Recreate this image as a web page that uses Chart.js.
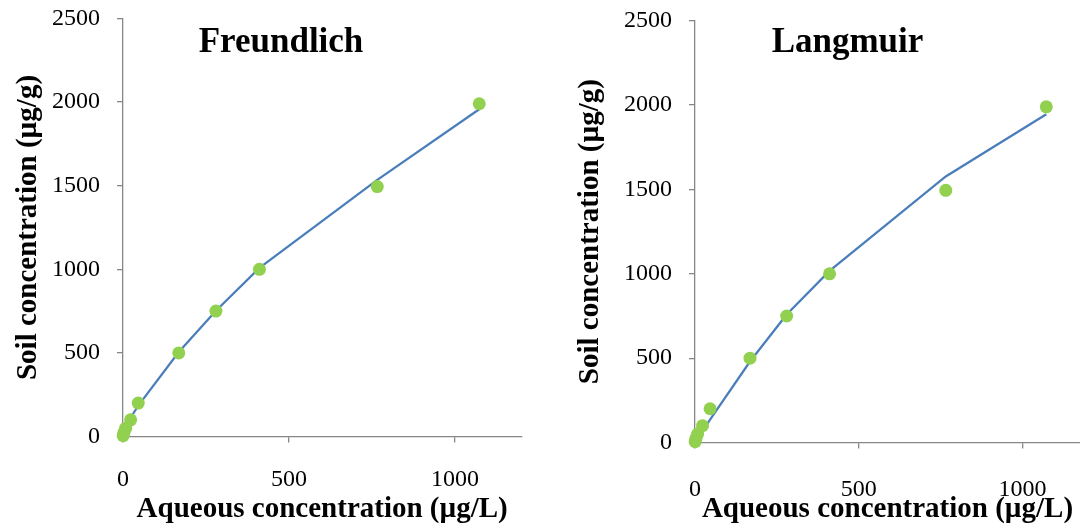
<!DOCTYPE html>
<html lang="en">
<head>
<meta charset="UTF-8">
<title>Freundlich and Langmuir isotherms</title>
<script src="https://cdn.jsdelivr.net/npm/chart.js@4.4.1/dist/chart.umd.min.js"></script>
<style>
  body { margin: 0; background: #fff; }
  #wrap { position: relative; width: 1080px; height: 527px; overflow: hidden; }
  #wrap canvas { position: absolute; top: 0; }
</style>
</head>
<body>
<div id="wrap">
  <canvas id="freundlich" width="540" height="527" style="left:0"></canvas>
  <canvas id="langmuir" width="540" height="527" style="left:540px"></canvas>
</div>
<script>
// measured points: aqueous (µg/L) vs soil (µg/g)
const aqueous = [0.5, 3, 8, 23, 46, 168, 280, 411, 766, 1073];
const soil = [5, 25, 50, 100, 200, 500, 750, 1000, 1495, 1990];

// model lines at the same aqueous values
const freundlichFit = [8, 28, 58, 112, 185, 505, 752, 1008, 1535, 1957];
const langmuirFit = [2, 9, 24, 69, 135, 480, 759, 1017, 1577, 1946];

const xTicks = [0, 500, 1000];
const yTicks = [0, 500, 1000, 1500, 2000, 2500];

const axisGrey = '#868686';
const serif = '"Liberation Serif", "Times New Roman", serif';

// big bold label sitting inside the plot, like the Excel overlay title
const panelTitle = {
    id: 'panelTitle',
    afterDraw(chart, args, o) {
        const ctx = chart.ctx;
        ctx.save();
        ctx.font = 'bold 35px ' + serif;
        ctx.fillStyle = '#000';
        ctx.textAlign = 'center';
        ctx.textBaseline = 'alphabetic';
        ctx.fillText(o.text, o.x, o.y);
        ctx.restore();
    }
};

function toXY(xs, ys) {
    return xs.map((x, i) => ({ x: x, y: ys[i] }));
}

function makeChart(id, title, fit, s) {
    new Chart(document.getElementById(id), {
        type: 'scatter',
        data: {
            datasets: [
                {
                    label: 'Measured',
                    data: toXY(aqueous, soil),
                    backgroundColor: '#92d050',
                    borderWidth: 0,
                    pointRadius: 6.5,
                    clip: false
                },
                {
                    label: title,
                    data: toXY(aqueous, fit),
                    showLine: true,
                    borderColor: '#4a7ebb',
                    borderWidth: 2.25,
                    pointRadius: 0,
                    tension: 0,
                    clip: false
                }
            ]
        },
        options: {
            responsive: false,
            animation: false,
            devicePixelRatio: 1,
            layout: {
                autoPadding: false,
                padding: { left: 0, right: s.padRight, top: s.padTop, bottom: 0 }
            },
            plugins: {
                legend: { display: false },
                tooltip: { enabled: false },
                panelTitle: { text: title, x: s.titleX, y: 52 }
            },
            scales: {
                x: {
                    type: 'linear',
                    min: 0,
                    max: s.xMax,
                    afterBuildTicks: sc => { sc.ticks = xTicks.map(v => ({ value: v })); },
                    afterFit: sc => { sc.height = s.xHeight; },
                    border: { color: axisGrey, width: 1.3 },
                    grid: { drawOnChartArea: false, tickLength: 6, color: axisGrey, lineWidth: 1.3 },
                    ticks: {
                        color: '#000',
                        font: { family: serif, size: 24 },
                        padding: s.xPad,
                        maxRotation: 0,
                        callback: v => String(v)
                    },
                    title: {
                        display: true,
                        text: 'Aqueous concentration (µg/L)',
                        color: '#000',
                        font: { family: serif, size: 29, weight: 'bold' },
                        padding: { top: 0, bottom: 0 }
                    }
                },
                y: {
                    min: 0,
                    max: 2500,
                    afterBuildTicks: sc => { sc.ticks = yTicks.map(v => ({ value: v })); },
                    afterFit: sc => { sc.width = s.yWidth; },
                    border: { color: axisGrey, width: 1.3 },
                    grid: { drawOnChartArea: false, tickLength: 6, color: axisGrey, lineWidth: 1.3 },
                    ticks: {
                        color: '#000',
                        // tiny lineHeight keeps the label box from pushing the plot top down
                        font: { family: serif, size: 24, lineHeight: 0.05 },
                        padding: 17,
                        callback: v => String(v)
                    },
                    title: {
                        display: true,
                        text: 'Soil concentration (µg/g)',
                        color: '#000',
                        font: { family: serif, size: 29, weight: 'bold' },
                        padding: { top: s.yTitlePad, bottom: 0 }
                    }
                }
            }
        },
        plugins: [panelTitle]
    });
}

makeChart('freundlich', 'Freundlich', freundlichFit, {
    xMax: 1200, padRight: 18.6, padTop: 18.5, xHeight: 90.5, yWidth: 123,
    xPad: 23, yTitlePad: 11, titleX: 281
});

makeChart('langmuir', 'Langmuir', langmuirFit, {
    xMax: 1176, padRight: 0, padTop: 20.8, xHeight: 84.5, yWidth: 155,
    xPad: 27, yTitlePad: 33.5, titleX: 307.5
});
</script>
</body>
</html>
